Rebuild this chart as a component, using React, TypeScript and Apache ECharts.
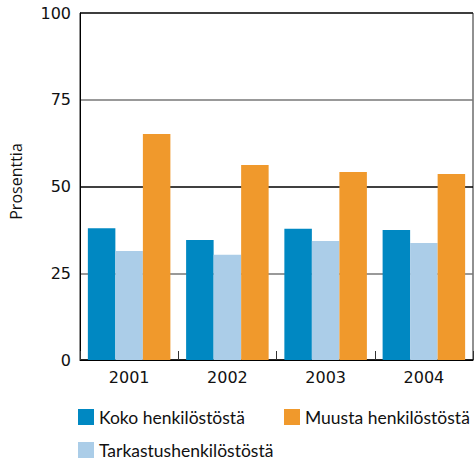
import React, { useEffect, useRef } from "react";
import * as echarts from "echarts";

const years = ["2001", "2002", "2003", "2004"];
const koko = [38.0, 34.6, 37.8, 37.5];
const tarkastus = [31.4, 30.3, 34.3, 33.7];
const muusta = [65.1, 56.2, 54.2, 53.6];
const seriesNames = ["Koko henkilöstöstä", "Tarkastushenkilöstöstä", "Muusta henkilöstöstä"];
const colors = ["#0088c2", "#abcde8", "#f0992c"];

export default function App() {
  const ref = useRef<HTMLDivElement>(null);
  useEffect(() => {
    if (!ref.current) return;
    const chart = echarts.init(ref.current, null, { renderer: "svg" });
    const legendText = { fontFamily: "Lato", fontSize: 17.5, color: "#111" };
    const legendBase = {
      orient: "horizontal",
      icon: "rect",
      itemWidth: 16,
      itemHeight: 16,
      itemGap: 10,
      textStyle: legendText,
      padding: 0,
      selectedMode: false,
    };
    chart.setOption({
      animation: false,
      grid: {
        left: 79,
        right: 3,
        top: 13,
        bottom: 101,
        show: true,
        borderColor: "#222",
        borderWidth: 1,
      },
      legend: [
        { ...legendBase, data: [seriesNames[0]], left: 78, top: 408 },
        { ...legendBase, data: [seriesNames[2]], left: 284, top: 408 },
        { ...legendBase, data: [seriesNames[1]], left: 78, top: 441 },
      ],
      xAxis: {
        type: "category",
        data: years,
        axisLine: { lineStyle: { color: "#000", width: 1 } },
        axisTick: { show: true, inside: true, length: 9, lineStyle: { color: "#333", width: 1 } },
        axisLabel: { fontFamily: "DejaVu Sans", fontSize: 16, color: "#111", margin: 9 },
      },
      yAxis: {
        type: "value",
        min: 0,
        max: 100,
        interval: 25,
        name: "Prosenttia",
        nameLocation: "middle",
        nameGap: 56,
        nameTextStyle: { fontFamily: "Open Sans", fontSize: 16, color: "#111", padding: [0, 0, 0, 10] },
        axisLine: { show: true, lineStyle: { color: "#000", width: 1 } },
        axisTick: { show: false },
        axisLabel: { fontFamily: "DejaVu Sans", fontSize: 16, color: "#111", margin: 9 },
        splitLine: {
          show: true,
          lineStyle: { color: ["#000", "#777", "#000", "#777", "#222"], width: 1.5 },
        },
      },
      series: [
        { name: seriesNames[0], type: "bar", data: koko, itemStyle: { color: colors[0] }, barGap: "0%", barCategoryGap: "16%" },
        { name: seriesNames[1], type: "bar", data: tarkastus, itemStyle: { color: colors[1] }, barGap: "0%", barCategoryGap: "16%" },
        { name: seriesNames[2], type: "bar", data: muusta, itemStyle: { color: colors[2] }, barGap: "0%", barCategoryGap: "16%" },
      ],
    });
    return () => chart.dispose();
  }, []);
  return <div ref={ref} style={{ width: 476, height: 461, position: "absolute", left: 0, top: 0 }} />;
}
